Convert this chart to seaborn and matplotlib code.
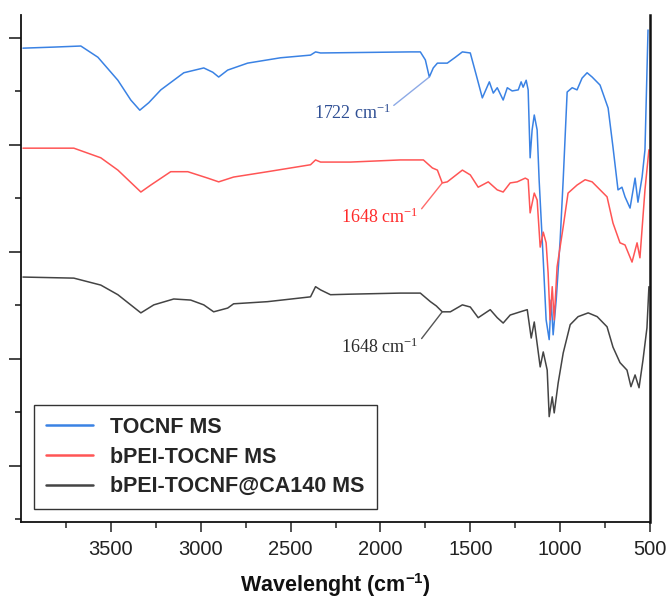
import numpy as np
import pandas as pd
import matplotlib
matplotlib.use("Agg")
import matplotlib.pyplot as plt
import seaborn as sns

# ---------------- data ----------------
series_names = ["TOCNF MS", "bPEI-TOCNF MS", "bPEI-TOCNF@CA140 MS"]

tocnf_wn = [3989, 3817, 3667, 3572, 3461, 3389, 3339, 3289, 3222, 3094, 2983, 2933,
            2900, 2850, 2739, 2556, 2389, 2361, 2333, 1833, 1778, 1750, 1728, 1706,
            1683, 1628, 1583, 1544, 1500, 1467, 1433, 1394, 1372, 1350, 1317, 1294,
            1267, 1233, 1217, 1206, 1189, 1178, 1167, 1156, 1144, 1128, 1117, 1094,
            1078, 1061, 1050, 1039, 1022, 1000, 983, 961, 933, 906, 878, 850, 822,
            778, 733, 706, 678, 656, 639, 611, 583, 567, 544, 528, 511]
tocnf_t = [78.1, 78.3, 78.5, 76.4, 72.1, 68.4, 66.5, 67.9, 70.3, 73.5, 74.4, 73.6,
           72.7, 74.0, 75.3, 76.3, 76.8, 77.4, 77.2, 77.4, 77.4, 75.9, 72.7, 74.4,
           75.3, 75.3, 76.4, 77.4, 77.2, 73.1, 68.8, 71.8, 69.7, 70.7, 68.4, 70.7,
           70.1, 70.3, 71.8, 70.8, 72.1, 70.3, 57.6, 62.8, 65.6, 62.8, 53.5, 38.5,
           27.3, 23.6, 31.0, 24.5, 31.0, 42.2, 53.5, 69.9, 70.7, 70.3, 72.5, 73.5,
           72.7, 71.2, 66.9, 59.6, 51.6, 52.1, 50.3, 48.2, 53.8, 49.3, 54.0, 59.1, 81.5]

bpei_wn = [3989, 3706, 3556, 3461, 3333, 3278, 3167, 3072, 2961, 2900, 2817, 2628,
           2389, 2361, 2333, 2167, 1889, 1761, 1711, 1683, 1656, 1628, 1544, 1500,
           1456, 1400, 1350, 1317, 1278, 1239, 1194, 1178, 1167, 1144, 1128, 1111,
           1094, 1078, 1067, 1056, 1044, 1033, 1017, 983, 956, 906, 861, 822, 739,
           706, 667, 639, 600, 572, 556, 528, 506]
bpei_t = [59.4, 59.4, 57.6, 55.3, 51.2, 52.5, 55.0, 55.0, 53.8, 53.1, 54.0, 55.0,
          56.3, 57.2, 56.8, 56.8, 57.2, 57.2, 55.7, 55.3, 52.9, 53.1, 55.3, 54.4,
          52.1, 53.1, 51.6, 51.2, 52.9, 53.1, 53.8, 53.5, 47.3, 51.0, 49.7, 40.9,
          43.7, 41.7, 36.1, 27.3, 33.5, 27.3, 37.2, 44.7, 51.0, 52.5, 53.5, 53.1,
          50.3, 45.4, 41.7, 41.3, 38.1, 41.7, 38.9, 51.6, 59.1]

ca_wn = [3989, 3706, 3556, 3461, 3333, 3261, 3150, 3056, 2983, 2928, 2850, 2817,
         2628, 2389, 2361, 2333, 2278, 2167, 1889, 1778, 1722, 1689, 1656, 1611,
         1544, 1500, 1456, 1389, 1350, 1317, 1278, 1222, 1183, 1161, 1144, 1111,
         1094, 1072, 1061, 1044, 1033, 1011, 983, 944, 900, 844, 794, 739, 706,
         667, 628, 606, 583, 561, 539, 517, 506]
ca_t = [35.3, 35.1, 33.8, 32.0, 28.6, 30.1, 31.2, 31.0, 30.1, 28.8, 29.5, 30.3,
        30.7, 31.6, 33.5, 32.9, 32.0, 32.1, 32.3, 32.3, 30.7, 29.9, 28.8, 28.8,
        30.1, 29.7, 27.7, 29.2, 27.7, 26.7, 28.2, 28.8, 29.2, 23.9, 26.9, 18.5,
        21.3, 17.9, 9.2, 12.9, 9.9, 15.5, 21.1, 26.4, 27.9, 28.6, 27.9, 26.0, 22.2,
        19.3, 17.9, 14.8, 17.0, 14.6, 19.8, 25.8, 33.5]

# annotated peaks: (label, peak wavenumber, peak value)
peak_labels = ["1722 cm$\\mathrm{^{-1}}$", "1648 cm$\\mathrm{^{-1}}$", "1648 cm$\\mathrm{^{-1}}$"]
peak_wn = [1728, 1656, 1656]
peak_t = [72.7, 52.9, 28.8]

x_ticks = [3500, 3000, 2500, 2000, 1500, 1000, 500]

# ---------------- styling ----------------
sns.set_theme(style="ticks")
plt.rcParams["font.family"] = ["Liberation Sans", "DejaVu Sans"]
plt.rcParams["mathtext.fontset"] = "custom"
plt.rcParams["mathtext.rm"] = "Liberation Serif"
plt.rcParams["mathtext.bf"] = "Liberation Sans:bold"

line_colors = ["#3a82e4", "#ff5555", "#444444"]
label_colors = ["#2f4f94", "#ff2a2a", "#2a2a2a"]
leader_colors = ["#8daae6", "#ff6a6a", "#555555"]

frames = []
for name, wn, t in zip(series_names, [tocnf_wn, bpei_wn, ca_wn], [tocnf_t, bpei_t, ca_t]):
    frames.append(pd.DataFrame({"wn": wn, "T": t, "sample": name}))
df = pd.concat(frames, ignore_index=True)

fig = plt.figure(figsize=(6.70, 5.98), dpi=100)
ax = fig.add_axes([21 / 670, 1 - 522 / 598, 629 / 670, 507 / 598])

sns.lineplot(data=df, x="wn", y="T", hue="sample", hue_order=series_names,
             palette=line_colors, estimator=None, sort=True, linewidth=1.1, ax=ax)

ax.set_xlim(4000, 500)
ax.set_ylim(-10.5, 84.3)

ax.set_xticks(x_ticks)
ax.set_xticks([3750, 3250, 2750, 2250, 1750, 1250, 750], minor=True)
ax.set_yticks([0, 20, 40, 60, 80])
ax.set_yticks([-10, 10, 30, 50, 70], minor=True)
ax.set_yticklabels([])
ax.tick_params(axis="x", which="major", length=7, width=1.1, labelsize=14.5,
               pad=6, colors="#222222", direction="out")
ax.tick_params(axis="x", which="minor", length=4, width=1.1, direction="out")
ax.tick_params(axis="y", which="major", length=9, width=1.2, direction="out")
ax.tick_params(axis="y", which="minor", length=4, width=1.2, direction="out")

ax.spines["top"].set_visible(False)
for s in ["left", "bottom"]:
    ax.spines[s].set_linewidth(1.3)
    ax.spines[s].set_color("#111111")
ax.spines["right"].set_linewidth(1.8)
ax.spines["right"].set_color("#111111")

ax.set_xlabel("Wavelenght (cm$\\mathbf{^{-1}}$)", fontsize=15.5, fontweight="bold",
              labelpad=9, color="#111111")
ax.set_ylabel("")

# annotations
text_pos = [(1944, 66.0), (1789, 46.4), (1789, 22.1)]
for lab, pw, pt, (tx, ty), tc, lc in zip(peak_labels, peak_wn, peak_t, text_pos,
                                         label_colors, leader_colors):
    ax.annotate(lab, xy=(pw, pt), xytext=(tx, ty), ha="right", va="center",
                fontsize=13, family="Liberation Serif", color=tc,
                arrowprops=dict(arrowstyle="-", color=lc, lw=1.0,
                                shrinkA=0, shrinkB=0, relpos=(1.0, 0.75)))

handles, labels = ax.get_legend_handles_labels()
leg = ax.legend(handles, labels, loc="lower left", bbox_to_anchor=(0.0207, 0.0256),
                borderaxespad=0, frameon=True, fancybox=False, framealpha=1,
                edgecolor="#333333", prop={"weight": "bold", "size": 15.5},
                handlelength=2.2, handletextpad=0.8, labelspacing=0.4,
                borderpad=0.55)
leg.get_frame().set_linewidth(1.0)
for h in leg.get_lines():
    h.set_linewidth(1.8)

fig.savefig("out.png", dpi=100)
